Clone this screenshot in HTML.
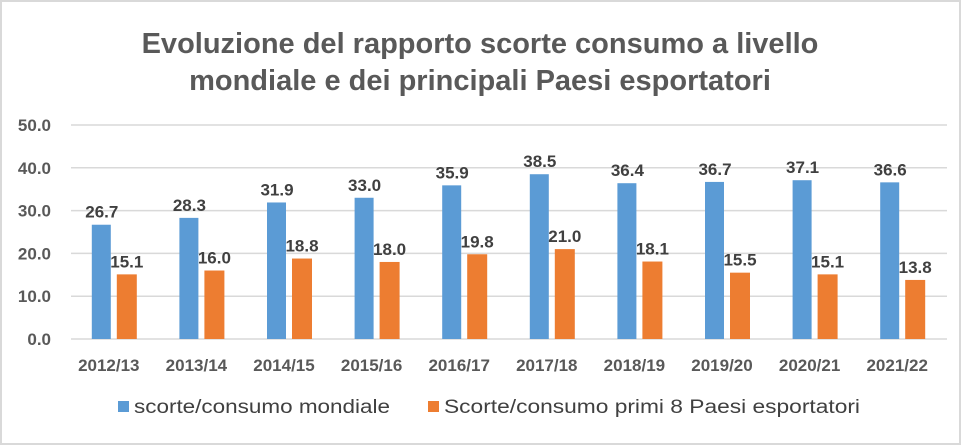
<!DOCTYPE html>
<html><head><meta charset="utf-8"><style>
body{margin:0;background:#fff}
svg{display:block;font-family:"Liberation Sans",Calibri,sans-serif}
</style></head><body>
<svg id="chart" width="961" height="445">
<rect x="1" y="1" width="959" height="443" fill="#fff" stroke="#d9d9d9" stroke-width="2"/>
<text x="480" y="53" text-anchor="middle" font-size="29" font-weight="bold" fill="#595959">Evoluzione del rapporto scorte consumo a livello</text>
<text x="480" y="90" text-anchor="middle" font-size="29" font-weight="bold" fill="#595959">mondiale e dei principali Paesi esportatori</text>
<g id="grid"></g><g id="bars"></g><g id="labels"></g>
<g>
<rect x="118" y="401" width="11" height="11" fill="#5b9bd5"/>
<text x="134" y="413" font-size="19" fill="#404040" textLength="256" lengthAdjust="spacingAndGlyphs">scorte/consumo mondiale</text>
<rect x="428" y="401" width="11" height="11" fill="#ed7d31"/>
<text x="444" y="413" font-size="19" fill="#404040" textLength="416" lengthAdjust="spacingAndGlyphs">Scorte/consumo primi 8 Paesi esportatori</text>
</g>
</svg>
<script>
const categories=["2012/13","2013/14","2014/15","2015/16","2016/17","2017/18","2018/19","2019/20","2020/21","2021/22"];
const mondiale=[26.7,28.3,31.9,33.0,35.9,38.5,36.4,36.7,37.1,36.6];
const esportatori=[15.1,16.0,18.8,18.0,19.8,21.0,18.1,15.5,15.1,13.8];
const yTicks=[0,10,20,30,40,50];
const NS="http://www.w3.org/2000/svg";
const x0=71,x1=947,yBase=339,yTop=125,yMax=50;
const bw=(x1-x0)/categories.length;
const y=v=>yBase-(v/yMax)*(yBase-yTop);
const cx=i=>x0+bw*(i+0.5);
function mk(t,a,p,txt){const e=document.createElementNS(NS,t);for(const k in a)e.setAttribute(k,a[k]);if(txt!==undefined)e.textContent=txt;p.appendChild(e);return e;}
const grid=document.getElementById('grid'),bars=document.getElementById('bars'),labels=document.getElementById('labels');
yTicks.forEach(t=>{
 const l=mk('line',{x1:x0,x2:x1,y1:y(t),y2:y(t),stroke:'#d9d9d9','stroke-width':1.5},grid);
 
 
 const tx=mk('text',{x:51,y:y(t)+6,'text-anchor':'end','font-size':17,'font-weight':'bold',fill:'#595959'},grid,t.toFixed(1));
 
 
});
categories.forEach((c,i)=>{
 const m=mondiale[i],e=esportatori[i];
 const b1=mk('rect',{x:cx(i)-23,y:y(m),width:19,height:yBase-y(m),fill:'#5b9bd5'},bars);
 
 
 const b2=mk('rect',{x:cx(i)+2,y:y(e),width:20,height:yBase-y(e),fill:'#ed7d31'},bars);
 
 
 const l1=mk('text',{x:cx(i)-13,y:y(m)-7,'text-anchor':'middle','font-size':17,'font-weight':'bold',fill:'#404040'},labels,m.toFixed(1));
 
 
 const l2=mk('text',{x:cx(i)+12,y:y(e)-7,'text-anchor':'middle','font-size':17,'font-weight':'bold',fill:'#404040'},labels,e.toFixed(1));
 
 
 const xl=mk('text',{x:cx(i)-6,y:371,'text-anchor':'middle','font-size':17,'font-weight':'bold',fill:'#595959'},labels,c);
 
 
});
</script>
</body></html>
